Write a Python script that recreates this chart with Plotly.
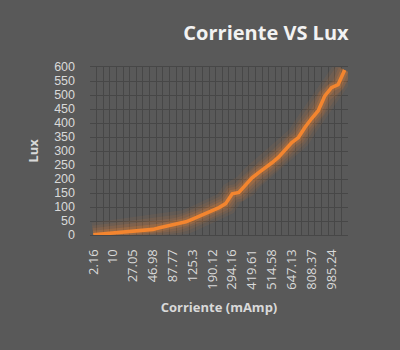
import plotly.graph_objects as go

# Data (39 measurements, x labels shown every 3rd category)
lux = [1, 3, 5, 7, 9, 11, 13, 15, 17, 20, 26, 32, 36, 41, 47, 57, 67, 77, 87, 98,
       112, 147, 152, 176, 204, 223, 239, 258, 278, 302, 330, 348, 385, 416, 444,
       497, 526, 537, 589]
tick_labels = ["2.16", "10", "27.05", "46.98", "87.77", "125.3", "190.12",
               "294.16", "419.61", "514.58", "647.13", "808.37", "985.24"]
label_step = 3

idx = list(range(len(lux)))
tick_positions = [i * label_step for i in range(len(tick_labels))]

BG = "#595959"
ORANGE = "#F3852F"
TXT = "#D9D9D9"
GRID = "#474747"

fig = go.Figure()
# glow layers
for w, a in [(24, 0.07), (18, 0.09), (13, 0.12), (8, 0.2)]:
    fig.add_trace(go.Scatter(x=idx, y=lux, mode="lines",
                             line=dict(color=f"rgba(243,133,47,{a})", width=w),
                             hoverinfo="skip", showlegend=False))
fig.add_trace(go.Scatter(x=idx, y=lux, mode="lines",
                         line=dict(color=ORANGE, width=3.6),
                         showlegend=False))

fig.update_layout(
    width=400, height=350,
    paper_bgcolor=BG, plot_bgcolor=BG,
    margin=dict(l=90, r=52, t=67, b=115),
    font=dict(family="Open Sans", color=TXT, size=12),
    title=dict(text="<b>Corriente VS Lux</b>", x=0.665, xanchor="center",
               y=0.905, yref="container", yanchor="middle",
               font=dict(size=20, color="#F2F2F2", family="Open Sans")),
)
fig.update_xaxes(
    range=[-0.5, len(lux) - 0.5],
    tickmode="array", tickvals=tick_positions, ticktext=tick_labels,
    tickangle=-90, showgrid=False, zeroline=False, ticks="",
    tickfont=dict(size=13, color=TXT),
    ticklabelstandoff=8,
    minor=dict(tickmode="linear", tick0=-0.5, dtick=1, showgrid=True,
               gridcolor=GRID, gridwidth=1),
    showline=True, linecolor=GRID, linewidth=1, mirror=True,
    title=dict(text="<b>Corriente (mAmp)</b>", standoff=14,
               font=dict(size=13, color=TXT)),
)
fig.update_yaxes(
    range=[0, 600], dtick=50, showgrid=True, gridcolor=GRID, gridwidth=1,
    zeroline=False, ticks="",
    tickfont=dict(size=12.5, color=TXT, family="Liberation Sans"),
    ticklabelstandoff=14,
    title=dict(text="<b>Lux</b>", standoff=12, font=dict(size=13, color=TXT)),
)

fig.write_html("out.html", config={"displayModeBar": False},
               post_script="document.body.style.margin='0';")
